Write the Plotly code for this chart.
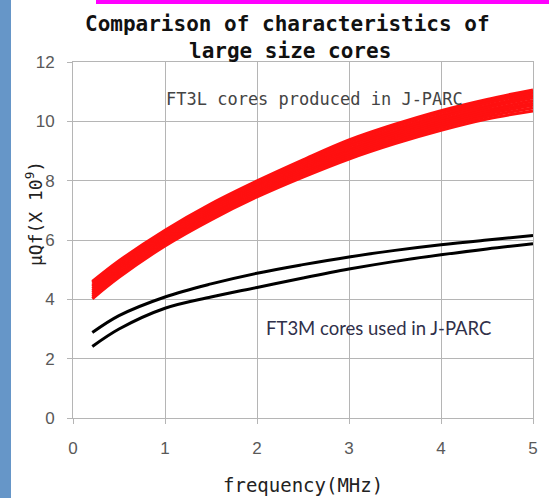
import plotly.graph_objects as go

# ---- data ----
freq = [0.21, 0.5, 1.0, 1.5, 2.0, 2.5, 3.0, 3.5, 4.0, 4.5, 5.0]

ft3l_curves = [
    [4.60, 5.30, 6.33, 7.22, 7.99, 8.70, 9.37, 9.90, 10.36, 10.74, 11.06],
    [4.55, 5.25, 6.28, 7.17, 7.94, 8.64, 9.30, 9.83, 10.29, 10.67, 11.00],
    [4.48, 5.18, 6.22, 7.10, 7.87, 8.57, 9.22, 9.75, 10.21, 10.61, 10.95],
    [4.42, 5.12, 6.16, 7.05, 7.82, 8.51, 9.15, 9.67, 10.14, 10.53, 10.87],
    [4.35, 5.06, 6.10, 6.98, 7.76, 8.44, 9.07, 9.60, 10.06, 10.46, 10.80],
    [4.28, 4.99, 6.04, 6.92, 7.70, 8.38, 9.00, 9.53, 9.99, 10.38, 10.70],
    [4.22, 4.93, 5.98, 6.86, 7.63, 8.32, 8.94, 9.46, 9.92, 10.31, 10.62],
    [4.15, 4.86, 5.92, 6.80, 7.57, 8.25, 8.87, 9.39, 9.85, 10.24, 10.54],
    [4.08, 4.80, 5.86, 6.74, 7.51, 8.19, 8.80, 9.32, 9.78, 10.16, 10.45],
    [4.02, 4.74, 5.80, 6.68, 7.45, 8.12, 8.73, 9.25, 9.70, 10.08, 10.35],
]

ft3m_curves = [
    [2.88, 3.45, 4.08, 4.52, 4.88, 5.17, 5.43, 5.65, 5.84, 6.00, 6.15],
    [2.41, 3.00, 3.70, 4.08, 4.40, 4.72, 5.02, 5.28, 5.50, 5.70, 5.87],
]

x_ticks = [0, 1, 2, 3, 4, 5]
y_ticks = [0, 2, 4, 6, 8, 10, 12]

title_line1 = "Comparison of characteristics of"
title_line2 = "large size cores"
label_ft3l = "FT3L cores produced in J-PARC"
label_ft3m = "FT3M cores used in J-PARC"

# ---- figure ----
fig = go.Figure()
for ys in ft3l_curves:
    fig.add_trace(go.Scatter(x=freq, y=ys, mode="lines",
                             line=dict(color="#ff1010", width=3, shape="spline"),
                             showlegend=False, hoverinfo="skip"))
for ys in ft3m_curves:
    fig.add_trace(go.Scatter(x=freq, y=ys, mode="lines",
                             line=dict(color="#000000", width=3, shape="spline"),
                             showlegend=False, hoverinfo="skip"))

W, H = 549, 498
L, R, T, B = 73, 16, 62, 80
pw, ph = W - L - R, H - T - B

def px(p):
    return (p - L) / pw

def py(q):
    return (H - B - q) / ph

grid = "#b5b5b5"
fig.update_layout(
    width=W, height=H,
    margin=dict(l=L, r=R, t=T, b=B),
    paper_bgcolor="white", plot_bgcolor="white",
    xaxis=dict(range=[0, 5], tickvals=x_ticks, showgrid=True, gridcolor=grid, gridwidth=1,
               zeroline=False, showline=True, linecolor=grid, linewidth=1, mirror=True,
               ticks="outside", ticklen=5, tickcolor=grid, ticklabelstandoff=10,
               tickfont=dict(family="Liberation Sans", size=17, color="#595959")),
    yaxis=dict(range=[0, 12], tickvals=y_ticks, showgrid=True, gridcolor=grid, gridwidth=1,
               zeroline=False, showline=True, linecolor=grid, linewidth=1, mirror=True,
               ticks="outside", ticklen=5, tickcolor=grid, ticklabelstandoff=9,
               tickfont=dict(family="Liberation Sans", size=17, color="#595959")),
    shapes=[
        dict(type="rect", xref="paper", yref="paper", x0=px(0), x1=px(11), y0=py(H), y1=py(0),
             fillcolor="#6696c8", line=dict(width=0), layer="above"),
        dict(type="rect", xref="paper", yref="paper", x0=px(96), x1=px(W), y0=py(4), y1=py(0),
             fillcolor="#ff00ff", line=dict(width=0), layer="above"),
    ],
    annotations=[
        dict(text=title_line1, xref="paper", yref="paper", x=px(287), y=py(24),
             showarrow=False, xanchor="center", yanchor="middle",
             font=dict(family="DejaVu Sans Mono", size=21, color="#111111", weight="bold")),
        dict(text=title_line2, xref="paper", yref="paper", x=px(290), y=py(51),
             showarrow=False, xanchor="center", yanchor="middle",
             font=dict(family="DejaVu Sans Mono", size=21, color="#111111", weight="bold")),
        dict(text="μQf(X 10<sup>9</sup>)", xref="paper", yref="paper", x=px(34), y=py(214),
             showarrow=False, textangle=-90, xanchor="center", yanchor="middle",
             font=dict(family="DejaVu Sans Mono", size=18, color="#222222")),
        dict(text="frequency(MHz)", xref="paper", yref="paper", x=px(303), y=py(485),
             showarrow=False, xanchor="center", yanchor="middle",
             font=dict(family="DejaVu Sans Mono", size=19, color="#222222")),
        dict(text=label_ft3l, x=2.62, y=10.76, xref="x", yref="y", showarrow=False,
             xanchor="center", yanchor="middle",
             font=dict(family="DejaVu Sans Mono", size=17, color="#444444")),
        dict(text=label_ft3m, x=3.32, y=3.05, xref="x", yref="y", showarrow=False,
             xanchor="center", yanchor="middle",
             font=dict(family="Lato", size=18.5, color="#30304a")),
    ],
)

fig.write_html("out.html")
